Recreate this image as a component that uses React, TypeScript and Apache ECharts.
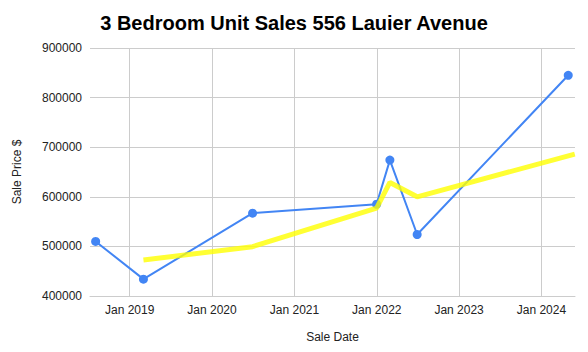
import React, { useEffect, useRef } from "react";
import * as echarts from "echarts";

const chartTitle = "3 Bedroom Unit Sales 556 Lauier Avenue";
const xAxisName = "Sale Date";
const yAxisName = "Sale Price $";

const saleDates = ["2018-08-03", "2019-03-03", "2020-06-29", "2021-12-31", "2022-02-28", "2022-06-29", "2024-04-29"];
const salePrices = [510000, 434000, 567000, 585000, 674000, 524000, 845000];

const trendDates = ["2019-03-03", "2020-06-29", "2021-12-31", "2022-02-28", "2022-06-29", "2024-05-28"];
const trendPrices = [472500, 499500, 577000, 629000, 600000, 686000];

const xMin = "2018-07-09";
const xMax = "2024-05-29";
const yMin = 400000;
const yMax = 900000;
const yInterval = 100000;

const MONTHS = ["Jan", "Feb", "Mar", "Apr", "May", "Jun", "Jul", "Aug", "Sep", "Oct", "Nov", "Dec"];
const FONT = "Arial, 'Liberation Sans', sans-serif";

const isYearStart = (v: number) => {
  const d = new Date(v);
  return d.getMonth() === 0 && d.getDate() === 1;
};

export default function App() {
  const ref = useRef<HTMLDivElement>(null);
  useEffect(() => {
    if (!ref.current) return;
    const chart = echarts.init(ref.current, undefined, { renderer: "svg" });
    chart.setOption({
      animation: false,
      backgroundColor: "#ffffff",
      title: {
        text: chartTitle,
        left: "center",
        top: 8,
        textStyle: { fontFamily: FONT, fontSize: 20, fontWeight: "bold", color: "#000000" },
      },
      grid: { left: 90, right: 13, top: 48, bottom: 56, containLabel: false },
      xAxis: {
        type: "time",
        min: xMin,
        max: xMax,
        minInterval: 365 * 24 * 3600 * 1000,
        maxInterval: 366 * 24 * 3600 * 1000,
        name: xAxisName,
        nameLocation: "middle",
        nameGap: 35,
        nameTextStyle: { fontFamily: FONT, fontSize: 12, color: "#222222" },
        axisLine: { show: true, lineStyle: { color: "#cccccc", width: 1 } },
        axisTick: { show: false },
        splitLine: {
          show: true,
          showMinLine: false,
          showMaxLine: false,
          interval: (_i: number, v: number) => isYearStart(v),
          lineStyle: { color: "#cccccc", width: 1 },
        },
        axisLabel: {
          fontFamily: FONT,
          fontSize: 12,
          color: "#222222",
          margin: 8,
          showMinLabel: false,
          showMaxLabel: false,
          formatter: (v: number) => {
            const d = new Date(v);
            return MONTHS[d.getMonth()] + " " + d.getFullYear();
          },
        },
      },
      yAxis: {
        type: "value",
        min: yMin,
        max: yMax,
        interval: yInterval,
        name: yAxisName,
        nameLocation: "middle",
        nameGap: 67,
        nameRotate: 90,
        nameTextStyle: { fontFamily: FONT, fontSize: 12, color: "#222222" },
        axisLine: { show: false },
        axisTick: { show: false },
        splitLine: { show: true, lineStyle: { color: "#cccccc", width: 1 } },
        axisLabel: {
          fontFamily: FONT,
          fontSize: 12,
          color: "#222222",
          margin: 8,
          formatter: (v: number) => String(v),
        },
      },
      series: [
        {
          type: "line",
          data: saleDates.map((d, i) => [d, salePrices[i]]),
          lineStyle: { color: "#4285f4", width: 2 },
          itemStyle: { color: "#4285f4" },
          symbol: "circle",
          symbolSize: 9,
          showSymbol: true,
          z: 2,
        },
        {
          type: "line",
          data: trendDates.map((d, i) => [d, trendPrices[i]]),
          lineStyle: { color: "#ffff00", width: 5, opacity: 0.8 },
          itemStyle: { color: "#ffff00" },
          symbol: "none",
          showSymbol: false,
          z: 3,
        },
      ],
    });
    return () => chart.dispose();
  }, []);
  return <div ref={ref} style={{ width: 588, height: 352, position: "absolute", left: 0, top: 0 }} />;
}
